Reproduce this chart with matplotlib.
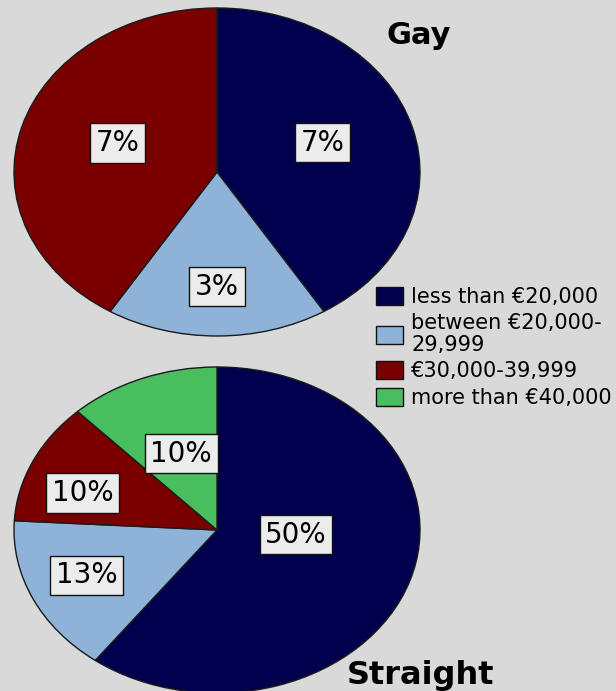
import numpy as np
import matplotlib

matplotlib.use("Agg")
import matplotlib.pyplot as plt  # noqa: E402

# Income bands, shared by both pies
income_bands = [
    "less than €20,000",
    "between €20,000-\n29,999",
    "€30,000-39,999",
    "more than €40,000",
]
band_colors = ["#00004f", "#8fb3d8", "#7a0000", "#48be5e"]

gay_values = [7, 3, 7]            # bands 0..2 (no one above €40,000)
straight_values = [50, 13, 10, 10]

BG = "#d9d9d9"
W, H = 616, 691

fig = plt.figure(figsize=(W / 100, H / 100), dpi=100, facecolor=BG)


def pie_axes(left, top, right, bottom):
    """Axes placed by pixel edges (top-left origin)."""
    ax = fig.add_axes([left / W, 1 - bottom / H, (right - left) / W, (bottom - top) / H])
    ax.axis("off")
    return ax


def draw_pie(ax, values, dists, nudges):
    wedges, _ = ax.pie(
        values, colors=band_colors[:len(values)], startangle=90, counterclock=False,
        radius=1, center=(0, 0), frame=False,
        wedgeprops=dict(edgecolor="#1a1a1a", linewidth=1.0),
    )
    # stretch the pie to fill the axes box (elliptical look)
    ax.set_xlim(-1, 1)
    ax.set_ylim(-1, 1)
    ax.set_aspect("auto")
    for w, v, d, n in zip(wedges, values, dists, nudges):
        ang = np.deg2rad((w.theta1 + w.theta2) / 2 + n)
        ax.text(d * np.cos(ang), d * np.sin(ang), f"{v}%",
                ha="center", va="center", fontsize=20, family="DejaVu Sans",
                bbox=dict(boxstyle="square,pad=0.2", facecolor="#ececec",
                          edgecolor="#111111", linewidth=1.0))
    return wedges


ax_gay = pie_axes(14, 8, 420, 336)
draw_pie(ax_gay, gay_values, [0.55, 0.70, 0.52], [3, 0, -4])

ax_str = pie_axes(14, 367, 420, 693)
draw_pie(ax_str, straight_values, [0.39, 0.70, 0.70, 0.50], [14, -1.5, 6, -1])

fig.text(386 / W, 1 - 44 / H, "Gay", fontsize=22, fontweight="heavy",
         family="DejaVu Sans", ha="left", va="baseline")
fig.text(347 / W, 1 - 684 / H, "Straight", fontsize=23, fontweight="heavy",
         family="DejaVu Sans", ha="left", va="baseline")

handles = [plt.Rectangle((0, 0), 1, 1, facecolor=c, edgecolor="#111111", linewidth=1.0)
           for c in band_colors]
leg = fig.legend(
    handles, income_bands,
    loc="upper left", bbox_to_anchor=(376 / W, 1 - 287 / H),
    frameon=False, borderpad=0, borderaxespad=0,
    labelspacing=0.3, handlelength=1.3, handleheight=0.95, handletextpad=0.4,
    prop=dict(family="DejaVu Sans", size=15),
)
for t in leg.get_texts():
    t.set_linespacing(1.1)

fig.savefig("out.png", dpi=100, facecolor=BG)
